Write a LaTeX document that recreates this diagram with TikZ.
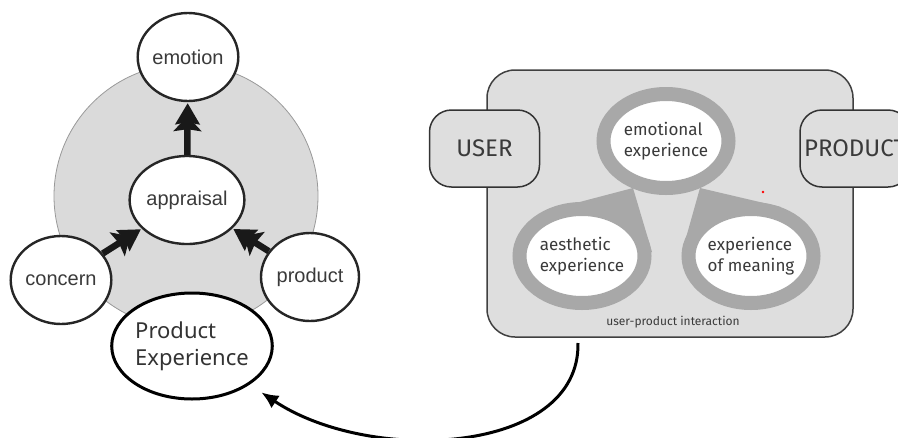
\documentclass[tikz,border=0pt]{standalone}
\usepackage{fontspec}
\setmainfont{Liberation Sans}
\newfontfamily\humanist{Fira Sans}
\newfontfamily\plainsans{Noto Sans}
\usetikzlibrary{shapes.geometric,arrows.meta}
\definecolor{fieldgray}{HTML}{DADADA}
\definecolor{boxgray}{HTML}{DEDEDE}
\definecolor{ringgray}{HTML}{A8A8A8}
\definecolor{inkgray}{HTML}{3A3A3A}

\begin{document}
\begin{tikzpicture}[
    x=1pt, y=-1pt,
    stage/.style={ellipse, draw=black!85, line width=2.4pt, fill=white, inner sep=0pt,
        minimum width=98pt, minimum height=88pt, text=inkgray,
        font=\fontsize{20}{22}\selectfont},
    push/.style={line width=6.5pt, black!90,
        -{Stealth[length=15pt,width=28pt,inset=2pt,sep=-8pt]Stealth[length=21pt,width=24pt,inset=2pt]},
        shorten >=1pt},
    ring/.style={ellipse, draw=ringgray, line width=14pt, fill=white, inner sep=0pt,
        minimum width=125pt, minimum height=94pt, align=left, text=inkgray,
        font=\humanist\fontsize{17}{21}\selectfont},
    party/.style={rectangle, rounded corners=22pt, draw=black!80, line width=1.5pt,
        fill=boxgray, minimum width=110pt, minimum height=77pt, text=inkgray,
        font=\humanist\fontsize{24}{26}\selectfont}
    ]
    \useasboundingbox (0,0) rectangle (898,437);

    % appraisal model
    \node[circle, draw=black!40, line width=0.8pt, fill=fieldgray, minimum size=264pt] (field) at (186,196) {};
    \node[stage] (emotion)   at (188,57)  {emotion};
    \node[stage] (appraisal) at (187,200) {appraisal};
    \node[stage] (concern)   at (61,280)  {concern};
    \node[stage] (product)   at (310,277) {product};
    \draw[push] (appraisal) -- (emotion);
    \draw[push] (concern) -- (appraisal);
    \draw[push] (product) -- (appraisal);

    \node[ellipse, draw=black, line width=3pt, fill=white, inner sep=0pt,
        minimum width=158pt, minimum height=106pt, align=left,
        font=\plainsans\fontsize{22}{27}\selectfont, text=black!80] (pexp) at (192,346)
        {Product\\Experience};

    % user-product interaction
    \node[rectangle, rounded corners=28pt, draw=black!75, line width=1.5pt, fill=boxgray,
        minimum width=366pt, minimum height=267pt] (frame) at (670,203.5) {};
    \node[party] (user) at (484.5,148.5) {USER};
    \node[party] (thing) at (855,148.5) {PRODUCT};
    \node[font=\humanist\fontsize{12}{14}\selectfont, text=inkgray] (caption) at (673,322) {user-product interaction};

    \fill[ringgray] (572,204) -- (633,188) -- (652,252) -- (582,257) -- cycle;
    \fill[ringgray] (700,188) -- (781,207) -- (751,256) -- (682,252) -- cycle;
    \node[ring] (emo)  at (666,141) {emotional\\experience};
    \node[ring] (aes)  at (582,256) {aesthetic\\experience};
    \node[ring] (mean) at (751,256) {experience\\of meaning};
    \fill[red] (763,192) circle[radius=1.3pt];

    % back to the product experience
    \coordinate (back) at (578,343);
    \draw[line width=3pt, -{Latex[length=17pt,width=15pt]}, shorten >=14pt]
        (back) .. controls (580,455) and (370,465) .. (pexp);

\end{tikzpicture}
\end{document}
